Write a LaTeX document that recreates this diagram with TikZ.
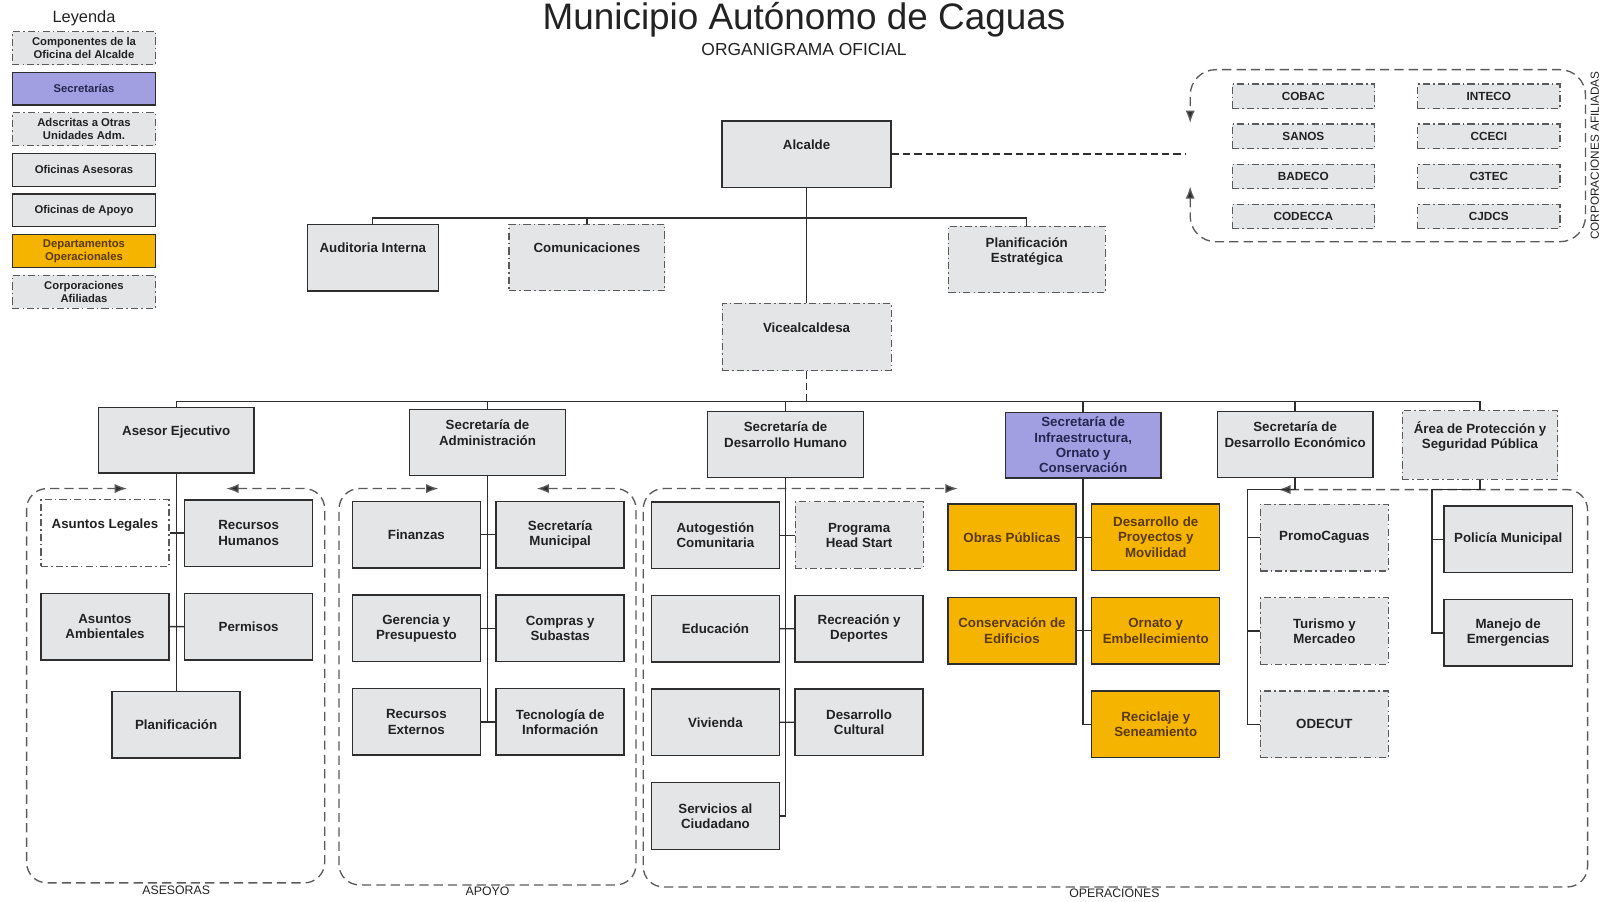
\documentclass[tikz,border=0pt]{standalone}
\usepackage{fontspec}
\setmainfont{Liberation Sans}
\usetikzlibrary{arrows.meta,positioning}
\definecolor{BoxGray}{HTML}{E4E5E7}
\definecolor{SecPurple}{HTML}{A19FE2}
\definecolor{OpsGold}{HTML}{F5B400}
\definecolor{OpsText}{HTML}{5A3A08}
\definecolor{SecText}{HTML}{26264F}
\definecolor{EdgeDark}{HTML}{2E2E2E}
\definecolor{EdgeGray}{HTML}{5A5A5A}
\definecolor{InkGray}{HTML}{222222}

\begin{document}
\begin{tikzpicture}[
  x=1pt, y=-1pt,
  office/.style={
    draw=EdgeDark,
    line width=1.4pt,
    fill=BoxGray,
    minimum width=125pt,
    minimum height=65pt,
    align=center,
    font=\fontsize{13}{15}\selectfont\bfseries,
    text=InkGray,
    inner sep=2pt
  },
  officedash/.style={
    office,
    draw=EdgeGray,
    line width=1.1pt,
    dash pattern=on 7pt off 3pt on 1.5pt off 3pt
  },
  chief/.style={
    office,
    minimum width=152pt,
    minimum height=64pt
  },
  chiefdash/.style={
    officedash,
    minimum width=152pt,
    minimum height=64pt
  },
  secretaria/.style={
    chief,
    fill=SecPurple,
    text=SecText
  },
  operacional/.style={
    office,
    fill=OpsGold,
    text=OpsText
  },
  corp/.style={
    officedash,
    minimum width=139pt,
    minimum height=24pt,
    font=\fontsize{11.5}{13}\selectfont\bfseries
  },
  legendbox/.style={
    draw=EdgeDark,
    line width=1.2pt,
    fill=BoxGray,
    minimum width=140pt,
    minimum height=32pt,
    inner sep=1pt,
    align=center,
    font=\fontsize{11}{12.5}\selectfont\bfseries,
    text=InkGray
  },
  legenddash/.style={
    legendbox,
    draw=EdgeGray,
    line width=1pt,
    dash pattern=on 7pt off 3pt on 1.5pt off 3pt
  },
  raised/.style={text depth=19pt},
  link/.style={
    line width=1.3pt,
    draw=EdgeDark
  },
  linkdash/.style={
    line width=1.3pt,
    draw=EdgeDark,
    dash pattern=on 7pt off 4pt
  },
  frame/.style={
    line width=1.3pt,
    draw=EdgeGray,
    dash pattern=on 9pt off 5pt,
    rounded corners=20pt,
    {Latex[length=12pt,width=9pt,fill=EdgeDark]}-{Latex[length=12pt,width=9pt,fill=EdgeDark]}
  },
  framelabel/.style={
    font=\fontsize{12}{13}\selectfont,
    text=InkGray
  }
]
\useasboundingbox (0,0) rectangle (1568,880);

% Title
\node[font=\fontsize{36}{40}\selectfont, text=InkGray] (titulo) at (785,19)
  {Municipio Autónomo de Caguas};
\node[font=\fontsize{17}{19}\selectfont, text=InkGray] (subtitulo) at (785,48)
  {ORGANIGRAMA OFICIAL};

% Legend
\node[font=\fontsize{16}{18}\selectfont, text=InkGray] (leyenda) at (82,18) {Leyenda};
\node[legenddash] (lgcomp) at (82,47) {Componentes de la\\Oficina del Alcalde};
\node[legendbox, fill=SecPurple, text=SecText, below=6.5pt of lgcomp] (lgsec) {Secretarías};
\node[legenddash, below=6.5pt of lgsec] (lgads) {Adscritas a Otras\\Unidades Adm.};
\node[legendbox, below=6.5pt of lgads] (lgases) {Oficinas Asesoras};
\node[legendbox, below=6.5pt of lgases] (lgapoyo) {Oficinas de Apoyo};
\node[legendbox, fill=OpsGold, text=OpsText, below=6.5pt of lgapoyo] (lgops) {Departamentos\\Operacionales};
\node[legenddash, below=6.5pt of lgops] (lgcorp) {Corporaciones\\Afiliadas};

% Mayor's office
\node[chief, raised, minimum width=165pt, minimum height=65pt] (alcalde)
  at (787.5,150.5) {Alcalde};
\node[office, raised, minimum width=128pt] (auditoria)
  at (364,251.5) {Auditoria Interna};
\node[officedash, raised, minimum width=152pt] (comunic)
  at (573,251.5) {Comunicaciones};
\node[officedash, raised, minimum width=153pt] (planest)
  at (1002.5,253.5) {Planificación\\Estratégica};
\node[chiefdash, raised, minimum width=165pt, minimum height=66pt] (vice)
  at (787.5,329) {Vicealcaldesa};

% Affiliated corporations
\node[corp] (cobac) at (1272.5,94) {COBAC};
\node[corp, below=14pt of cobac] (sanos) {SANOS};
\node[corp, below=14pt of sanos] (badeco) {BADECO};
\node[corp, below=14pt of badeco] (codecca) {CODECCA};
\node[corp, right=41pt of cobac] (inteco) {INTECO};
\node[corp, below=14pt of inteco] (cceci) {CCECI};
\node[corp, below=14pt of cceci] (ctec) {C3TEC};
\node[corp, below=14pt of ctec] (cjdcs) {CJDCS};
\node[rotate=90, font=\fontsize{11.5}{12}\selectfont, text=InkGray] (corplabel)
  at (1557,152) {CORPORACIONES AFILIADAS};
\coordinate (corpin) at (1158,150.5);

% Secretariats and areas
\node[chief, raised] (asesor) at (172,430) {Asesor Ejecutivo};
\node[chief, raised] (admin) at (476,432) {Secretaría de\\Administración};
\node[chief, raised] (dhumano) at (767,434) {Secretaría de\\Desarrollo Humano};
\node[secretaria] (infra) at (1057.5,434.5)
  {Secretaría de\\Infraestructura,\\Ornato y\\Conservación};
\node[chief, raised] (decon) at (1264.5,434) {Secretaría de\\Desarrollo Económico};
\node[chiefdash, raised, minimum height=67pt] (proteccion) at (1445,434.5)
  {Área de Protección y\\Seguridad Pública};

% Asesoras
\node[officedash, raised, fill=white] (legales) at (102.5,520.5) {Asuntos Legales};
\node[office, right=14pt of legales] (rrhh) {Recursos\\Humanos};
\node[office, below=25pt of legales] (ambient) {Asuntos\\Ambientales};
\node[office, below=25pt of rrhh] (permisos) {Permisos};
\node[office] (planif) at (172,707.5) {Planificación};

% Apoyo
\node[office] (finanzas) at (406.5,522) {Finanzas};
\node[office, right=14pt of finanzas] (secmun) {Secretaría\\Municipal};
\node[office, below=25pt of finanzas] (presup) {Gerencia y\\Presupuesto};
\node[office, below=25pt of secmun] (compras) {Compras y\\Subastas};
\node[office, below=25pt of presup] (rexternos) {Recursos\\Externos};
\node[office, below=25pt of compras] (tecinfo) {Tecnología de\\Información};

% Desarrollo Humano
\node[office] (autogestion) at (698.5,522.5) {Autogestión\\Comunitaria};
\node[officedash, right=14pt of autogestion] (headstart) {Programa\\Head Start};
\node[office, below=25pt of autogestion] (educacion) {Educación};
\node[office, below=25pt of headstart] (recreacion) {Recreación y\\Deportes};
\node[office, below=25pt of educacion] (vivienda) {Vivienda};
\node[office, below=25pt of recreacion] (cultural) {Desarrollo\\Cultural};
\node[office, below=25pt of vivienda] (servicios) {Servicios al\\Ciudadano};

% Infraestructura
\node[operacional] (obras) at (988,524.5) {Obras Públicas};
\node[operacional, right=14pt of obras] (proyectos) {Desarrollo de\\Proyectos y\\Movilidad};
\node[operacional, below=25pt of obras] (conserv) {Conservación de\\Edificios};
\node[operacional, below=25pt of proyectos] (ornato) {Ornato y\\Embellecimiento};
\node[operacional, below=25pt of ornato] (reciclaje) {Reciclaje y\\Seneamiento};

% Desarrollo Economico
\node[officedash] (promo) at (1293,525) {PromoCaguas};
\node[officedash, below=25pt of promo] (turismo) {Turismo y\\Mercadeo};
\node[officedash, below=25pt of turismo] (odecut) {ODECUT};
\coordinate (econbus) at (1218,478);

% Proteccion
\node[office] (policia) at (1472.5,526.5) {Policía Municipal};
\node[office, below=25pt of policia] (emergencias) {Manejo de\\Emergencias};
\coordinate (protbus) at (1398,478);

% Group frames
\draw[frame] (221,477) -- (317,477) -- (317,862) -- (26,862) -- (26,477) -- (124,477);
\draw[frame] (524,477) -- (621,477) -- (621,864) -- (331,864) -- (331,477) -- (428,477);
\draw[frame] (1248,478) -- (1550,478) -- (1550,866) -- (628,866) -- (628,477) -- (935,477);
\draw[frame, rounded corners=25pt] (1162,182) -- (1162,236) -- (1548,236)
  -- (1548,68) -- (1162,68) -- (1162,120);
\node[framelabel] (lblases) at (172,869) {ASESORAS};
\node[framelabel] (lblapoyo) at (476,870) {APOYO};
\node[framelabel] (lblops) at (1088,872) {OPERACIONES};

% Connections
\coordinate (bar1) at (0,213);
\coordinate (bar2) at (0,392);
\draw[link] (alcalde) -- (vice);
\draw[link] (auditoria.north) -- (auditoria.north |- bar1)
  -- (planest.north |- bar1) -- (planest.north);
\draw[link] (comunic.north) -- (comunic.north |- bar1);
\draw[linkdash] (alcalde.east) -- (corpin);
\draw[linkdash] (vice.south) -- (vice.south |- bar2);
\draw[link] (asesor.north) -- (asesor.north |- bar2)
  -- (proteccion.north |- bar2) -- (proteccion.north);
\draw[link] (admin.north) -- (admin.north |- bar2);
\draw[link] (dhumano.north) -- (dhumano.north |- bar2);
\draw[link] (infra.north) -- (infra.north |- bar2);
\draw[link] (decon.north) -- (decon.north |- bar2);

\draw[link] (asesor) -- (planif);
\draw[link] (legales) -- (rrhh);
\draw[link] (ambient) -- (permisos);

\draw[link] (admin.south) -- (admin.south |- rexternos.east);
\draw[link] (finanzas) -- (secmun);
\draw[link] (presup) -- (compras);
\draw[link] (rexternos) -- (tecinfo);

\draw[link] (dhumano.south) |- (servicios.east);
\draw[link] (autogestion) -- (headstart);
\draw[link] (educacion) -- (recreacion);
\draw[link] (vivienda) -- (cultural);

\draw[link] (infra.south) |- (reciclaje.west);
\draw[link] (obras) -- (proyectos);
\draw[link] (conserv) -- (ornato);

\draw[link] (decon.south) |- (econbus) |- (odecut.west);
\draw[link] (econbus |- promo.west) -- (promo.west);
\draw[link] (econbus |- turismo.west) -- (turismo.west);

\draw[link] (proteccion.south) |- (protbus) |- (emergencias.west);
\draw[link] (protbus |- policia.west) -- (policia.west);

\end{tikzpicture}
\end{document}
